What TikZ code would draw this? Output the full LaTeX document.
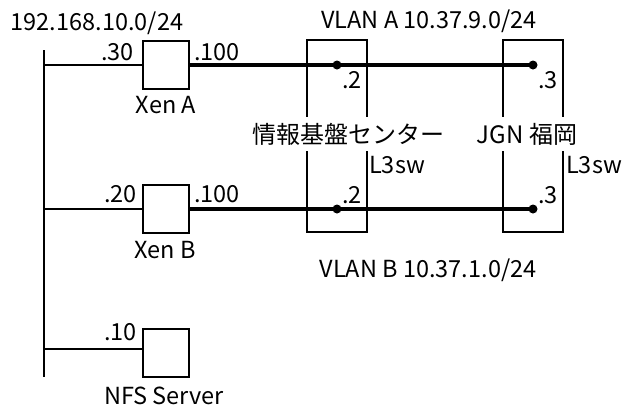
\documentclass[tikz,border=0pt]{standalone}
\usepackage{fontspec}
\setmainfont{Noto Sans CJK JP}
\begin{document}
\begin{tikzpicture}[x=1pt,y=-1pt,
  every node/.style={font=\fontsize{23.5}{28}\selectfont, inner sep=0pt},
  host/.style={draw, line width=2pt, minimum width=46pt, minimum height=48pt},
  sw/.style={draw, line width=2pt, minimum width=60pt, minimum height=192pt},
  swlabel/.style={fill=white, minimum height=34pt, inner xsep=2pt, font=\fontsize{24}{28}\selectfont},
  thin/.style={line width=2pt},
  trunk/.style={line width=4pt},
  dot/.style={circle, fill=black, minimum size=9pt},
  lbl/.style={anchor=base}]
\useasboundingbox (0,0) rectangle (630,410);
% bus
\coordinate (bt) at (44,50);
\coordinate (bb) at (44,377);
\coordinate (b1) at (44,65);
\coordinate (b2) at (44,209);
\coordinate (b3) at (44,349);
\draw[thin] (bt) -- (bb);
% hosts
\node[host] (xa) at (166,65) {};
\node[host] (xb) at (166,209) {};
\node[host] (nfs) at (166,353) {};
\draw[thin] (b1) -- (xa.west);
\draw[thin] (b2) -- (xb.west);
\draw[thin] (b3) -- (b3 -| nfs.west);
% switches
\node[sw] (swa) at (337,136) {};
\node[sw] (swb) at (533,136) {};
\node[dot] (da1) at (337,65) {};
\node[dot] (db1) at (533,65) {};
\node[dot] (da2) at (337,209) {};
\node[dot] (db2) at (533,209) {};
\draw[trunk] (xa.east) -- (db1.center);
\draw[trunk] (xb.east) -- (db2.center);
\node[swlabel] (swal) at (348,134) {情報基盤センター};
\node[swlabel] (swbl) at (527,134) {JGN 福岡};
\node[anchor=base west] (l3a) at (369,173) {L3sw};
\node[anchor=base west] (l3b) at (566,173) {L3sw};
% labels
\node[lbl] (net) at (97,30) {192.168.10.0/24};
\node[lbl] (vla) at (429,28) {VLAN A 10.37.9.0/24};
\node[lbl] (vlb) at (428,277) {VLAN B 10.37.1.0/24};
\node[anchor=base east] (a30) at (134,60) {.30};
\node[anchor=base west] (a100) at (194,60) {.100};
\node[anchor=base east] (a20) at (137,202) {.20};
\node[anchor=base west] (b100) at (194,202) {.100};
\node[anchor=base east] (a10) at (137,340) {.10};
\node[lbl] (xal) at (166,113) {Xen A};
\node[lbl] (xbl) at (165,258) {Xen B};
\node[lbl] (nfsl) at (164,404) {NFS Server};
\node[lbl] (p2a) at (352,88) {.2};
\node[lbl] (p3a) at (548,88) {.3};
\node[lbl] (p2b) at (352,203) {.2};
\node[lbl] (p3b) at (548,203) {.3};
\end{tikzpicture}
\end{document}
